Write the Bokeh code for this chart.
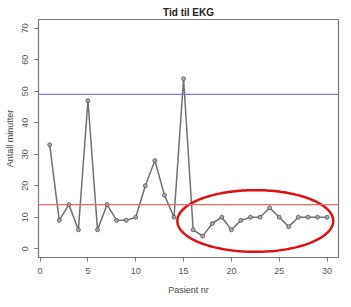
import numpy as np
from bokeh.plotting import figure
from bokeh.models import FixedTicker, Range1d, Span
from bokeh.embed import file_html
from bokeh.resources import INLINE

patients = list(range(1, 31))
minutes = [33, 9, 14, 6, 47, 6, 14, 9, 9, 10, 20, 28, 17, 10, 54,
           6, 4, 8, 10, 6, 9, 10, 10, 13, 10, 7, 10, 10, 10, 10]
upper_line = 49
lower_line = 14
y_ticks = [0, 10, 20, 30, 40, 50, 60, 70]
x_ticks = [0, 5, 10, 15, 20, 25, 30]
ellipse_x, ellipse_y, ellipse_w, ellipse_h = 22.5, 8.8, 16.3, 19.6

FONT = "Liberation Sans"
p = figure(width=351, height=307, output_backend="svg", toolbar_location=None,
           title="Tid til EKG",
           x_range=Range1d(-0.17, 31.2), y_range=Range1d(-2.8, 72.8),
           min_border_left=38, min_border_right=13, min_border_top=19, min_border_bottom=50)
p.title.align = "center"
p.title.text_font = FONT
p.title.text_font_size = "10px"
p.title.text_font_style = "bold"
p.title.text_color = "#222222"
p.title.standoff = 3

p.xgrid.visible = False
p.ygrid.visible = False
p.outline_line_color = "#777777"
p.outline_line_width = 1.2

for ax in (p.xaxis[0], p.yaxis[0]):
    ax.axis_line_color = None
    ax.major_tick_out = 4
    ax.major_tick_in = 0
    ax.minor_tick_line_color = None
    ax.major_tick_line_color = "#777777"
    ax.major_label_text_font = FONT
    ax.major_label_text_font_size = "9px"
    ax.major_label_text_color = "#555555"
    ax.axis_label_text_font = FONT
    ax.axis_label_text_font_size = "9px"
    ax.axis_label_text_font_style = "normal"
    ax.axis_label_text_color = "#444444"

p.xaxis.ticker = FixedTicker(ticks=x_ticks)
p.yaxis.ticker = FixedTicker(ticks=y_ticks)
p.yaxis.major_label_orientation = "vertical"
p.xaxis.axis_label = "Pasient nr"
p.yaxis.axis_label = "Antall minutter"
p.xaxis.major_label_standoff = 6
p.xaxis.axis_label_standoff = 8
p.yaxis.major_label_standoff = 6
p.yaxis.axis_label_standoff = 5

p.add_layout(Span(location=upper_line, dimension="width", line_color="#7777ee", line_width=1.3))
p.add_layout(Span(location=lower_line, dimension="width", line_color="#ee6666", line_width=1.1))

p.line(patients, minutes, line_color="#707070", line_width=1.5)
p.scatter(patients, minutes, size=4, fill_color="#aaaaaa", line_color="#555555", line_width=0.8)

t = np.linspace(0, 2 * np.pi, 200)
ex = ellipse_x + ellipse_w / 2 * np.cos(t)
ey = ellipse_y + ellipse_h / 2 * np.sin(t)
p.line(ex, ey, line_color="#dd1111", line_width=2.5)

open("out.html", "w").write(file_html(p, INLINE))
